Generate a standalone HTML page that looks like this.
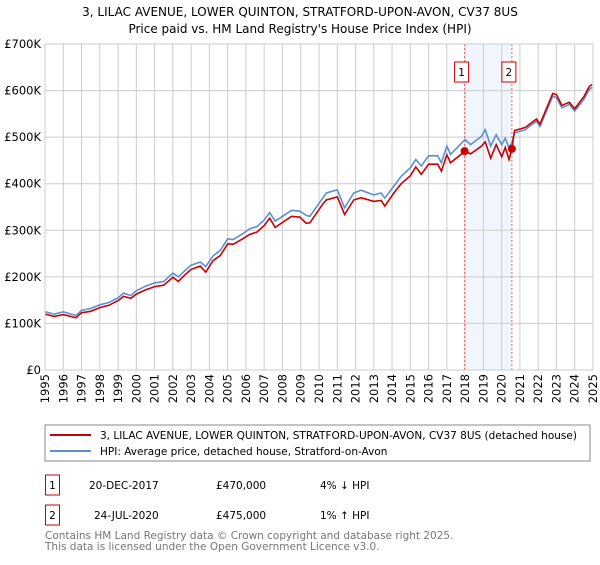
<!DOCTYPE html>
<html><head><meta charset="utf-8"><style>
body{margin:0;background:#fff;font-family:"Liberation Sans","DejaVu Sans",sans-serif;}
svg text{font-family:"DejaVu Sans","Liberation Sans",sans-serif;}
</style></head><body>
<svg id="c" width="600" height="560" xmlns="http://www.w3.org/2000/svg">
<text x="300" y="16" text-anchor="middle" font-size="12" fill="#000">3, LILAC AVENUE, LOWER QUINTON, STRATFORD-UPON-AVON, CV37 8US</text>
<text x="300" y="33" text-anchor="middle" font-size="12" fill="#000">Price paid vs. HM Land Registry's House Price Index (HPI)</text>
<g id="grid"></g><g id="marks"></g><g id="axes"></g>
<rect x="45" y="425" width="545" height="36" fill="#fff" stroke="#888"/>
<line x1="50" y1="435" x2="91" y2="435" stroke="#cc0000" stroke-width="2"/>
<text x="100" y="439" font-size="10.5">3, LILAC AVENUE, LOWER QUINTON, STRATFORD-UPON-AVON, CV37 8US (detached house)</text>
<line x1="50" y1="451" x2="91" y2="451" stroke="#5b8fd6" stroke-width="2"/>
<text x="100" y="455" font-size="10.5">HPI: Average price, detached house, Stratford-on-Avon</text>
<g font-size="10.5">
<rect x="45.5" y="475" width="14" height="20" fill="#fff" stroke="#cc0000"/><text x="52.5" y="489" text-anchor="middle">1</text>
<text x="89" y="489">20-DEC-2017</text><text x="216" y="489">£470,000</text><text x="320" y="489">4% ↓ HPI</text></g>
<g font-size="10.5">
<rect x="45.5" y="505" width="14" height="20" fill="#fff" stroke="#cc0000"/><text x="52.5" y="519" text-anchor="middle">2</text>
<text x="94" y="519">24-JUL-2020</text><text x="216" y="519">£475,000</text><text x="320" y="519">1% ↑ HPI</text></g>
<text x="45" y="539" font-size="10.5" fill="#777">Contains HM Land Registry data © Crown copyright and database right 2025.</text>
<text x="45" y="550" font-size="10.5" fill="#777">This data is licensed under the Open Government Licence v3.0.</text>
</svg>
<script>
const hpiYears=[1995,1995.5,1996,1996.7,1997,1997.5,1998,1998.5,1999,1999.3,1999.7,2000,2000.5,2001,2001.5,2002,2002.3,2002.7,2003,2003.5,2003.8,2004.2,2004.6,2005,2005.3,2005.8,2006.2,2006.6,2007,2007.3,2007.6,2008,2008.5,2008.96,2009.3,2009.5,2010.2,2010.4,2011,2011.4,2011.9,2012.3,2013,2013.4,2013.6,2014.1,2014.5,2015,2015.3,2015.6,2016,2016.5,2016.7,2017,2017.2,2018,2018.3,2018.9,2019.1,2019.4,2019.7,2020,2020.2,2020.4,2020.56,2020.7,2021.3,2021.9,2022.1,2022.8,2023,2023.3,2023.7,2024,2024.5,2024.8,2024.95];
const hpiValues=[125,120,125,117,128,132,140,145,155,165,160,170,180,187,190,208,200,215,225,232,222,245,257,282,280,292,303,308,322,338,320,330,343,341,332,330,369,380,387,348,380,386,376,380,369,395,416,434,452,438,460,460,445,481,463,495,484,502,516,481,505,484,498,477,488,509,516,534,523,588,585,563,570,556,581,603,607];
const priceValues=[120,115,119,112,123,126,134,139,149,158,154,163,172,179,182,199,190,206,216,223,210,235,246,271,270,281,291,296,310,326,306,317,330,328,315,316,356,365,372,334,365,370,362,364,352,380,400,417,436,420,442,442,427,462,445,470,464,481,490,455,484,458,478,452,475,514,521,539,528,594,591,568,575,561,587,609,613];
const sales=[[2017.97,470,"1"],[2020.56,475,"2"]];
const yTicks=[0,100,200,300,400,500,600,700];
const xTicks=[1995,1996,1997,1998,1999,2000,2001,2002,2003,2004,2005,2006,2007,2008,2009,2010,2011,2012,2013,2014,2015,2016,2017,2018,2019,2020,2021,2022,2023,2024,2025];
const X0=45,X1=593,Y0=370,Y1=44;
const xs=v=>X0+(v-1995)/30*(X1-X0), ys=v=>Y0-v/700*(Y0-Y1);
const NS="http://www.w3.org/2000/svg";
function mk(t,a,p){const e=document.createElementNS(NS,t);for(const k in a)e.setAttribute(k,a[k]);p.appendChild(e);return e;}
const g=document.getElementById('grid'),m=document.getElementById('marks'),ax=document.getElementById('axes');
const sh=mk('rect',{x:xs(sales[0][0]),y:Y1,width:xs(sales[1][0])-xs(sales[0][0]),height:Y0-Y1,fill:'#eef2fc',opacity:0.8},g);


yTicks.forEach(v=>{const l=mk('line',{x1:X0,x2:X1,y1:ys(v),y2:ys(v),stroke:'#ccc'},g);


const t=mk('text',{x:X0-4,y:ys(v)+4,'text-anchor':'end','font-size':'11.5'},ax);t.textContent=v?'£'+v+'K':'£0';

});
xTicks.forEach(v=>{const l=mk('line',{x1:xs(v),x2:xs(v),y1:Y1,y2:Y0,stroke:'#ccc'},g);


const t=mk('text',{x:0,y:0,'text-anchor':'end','font-size':'11.5',transform:`translate(${xs(v)+4},374) rotate(-90)`},ax);t.textContent=v;

});
const r=mk('rect',{x:X0,y:Y1,width:X1-X0,height:Y0-Y1,fill:'none',stroke:'#ccc'},ax);


sales.forEach(s=>{const l=mk('line',{x1:xs(s[0]),x2:xs(s[0]),y1:Y1,y2:Y0,stroke:'#f06060','stroke-dasharray':'2,2'},m);

});
function path(vals,col,name){const d=hpiYears.map((y,i)=>(i?'L':'M')+xs(y).toFixed(1)+','+ys(vals[i]).toFixed(1)).join('');
const p=mk('path',{d:d,fill:'none',stroke:col,'stroke-width':1.6},m);

}
path(hpiValues,'#5b8fd6','hpi-line');
path(priceValues,'#cc0000','price-line');
sales.forEach(s=>{const c=mk('circle',{cx:xs(s[0]),cy:ys(s[1]),r:4,fill:'#cc0000'},m);


const b=mk('rect',{x:xs(s[0])-10,y:62,width:14,height:20,fill:'#fff',stroke:'#cc0000'},m);


const t=mk('text',{x:xs(s[0])-3,y:76,'text-anchor':'middle','font-size':'10.5'},m);t.textContent=s[2];

});
</script>
</body></html>
